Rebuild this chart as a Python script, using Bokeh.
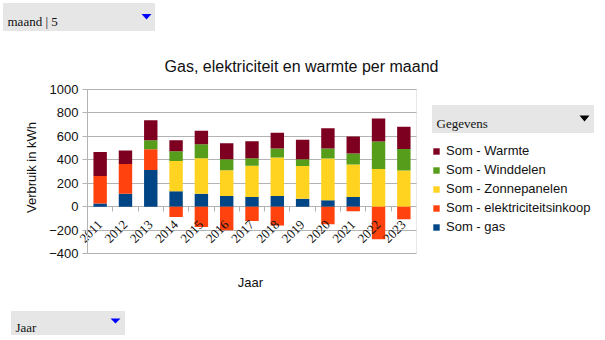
import numpy as np
from math import pi
from bokeh.plotting import figure
from bokeh.models import (ColumnDataSource, Range1d, LinearAxis, FixedTicker,
                          SingleIntervalTicker, Grid, Label, BoxAnnotation,
                          PolyAnnotation, Legend, LegendItem)
from bokeh.embed import file_html
from bokeh.resources import INLINE

# ---- data ----
years = ["2011", "2012", "2013", "2014", "2015", "2016", "2017",
         "2018", "2019", "2020", "2021", "2022", "2023"]
gas = [26, 111, 313, 131, 111, 91, 83, 91, 68, 54, 83, 0, 0]
elektriciteitsinkoop = [236, 254, 177, -88, -174, -202, -122, -162, 0, -151, -40, -279, -108]
zonnepanelen = [0, 0, 0, 259, 302, 220, 267, 328, 280, 356, 276, 322, 308]
winddelen = [0, 0, 77, 83, 120, 94, 63, 77, 57, 86, 94, 234, 185]
warmte = [205, 114, 171, 94, 114, 136, 145, 134, 165, 174, 145, 196, 188]

series_names = ["Som - gas", "Som - elektriciteitsinkoop", "Som - Zonnepanelen",
                "Som - Winddelen", "Som - Warmte"]
colors = ["#004586", "#ff420e", "#ffd320", "#579d1c", "#7e0021"]
y_min, y_max, y_step = -400, 1000, 200

# ---- layout constants (pixels) ----
W, H = 605, 340
FL, FT, FR, FB = 87, 89, 416, 253      # chart plot-area box on the canvas
GRAY = "#b3b3b3"
SANS = "Liberation Sans"
SERIF = "Liberation Serif"
TXT = "#111111"

n = len(years)
# ranges so that data box [0, n] x [y_min, y_max] sits at the plot-area box
kx = n / (FR - FL)
ky = (y_max - y_min) / (FB - FT)
x_range = Range1d(0 - FL * kx, n + (W - FR) * kx)
y_range = Range1d(y_min - (H - FB) * ky, y_max + FT * ky)


def sx(px):
    return px


def sy(py):
    return H - py


centers = np.arange(n) + 0.5
elek = np.array(elektriciteitsinkoop, dtype=float)
src = ColumnDataSource(dict(
    x=centers,
    gas=gas,
    elek_pos=np.maximum(elek, 0),
    elek_neg=np.minimum(elek, 0),
    zonne=zonnepanelen,
    wind=winddelen,
    warmte=warmte,
))

p = figure(width=W, height=H, output_backend="svg", toolbar_location=None,
           x_range=x_range, y_range=y_range, title=None,
           x_axis_location=None, y_axis_location=None,
           min_border=0, background_fill_color="white", border_fill_color="white",
           outline_line_color=None)
# drop default grids
p.center = [r for r in p.center if not isinstance(r, Grid)]

# grid
yticker = SingleIntervalTicker(interval=y_step)
p.add_layout(Grid(dimension=1, ticker=yticker, grid_line_color=GRAY,
                  bounds=(y_min, y_max), cross_bounds=(0, n)))
# plot-area outline
p.add_layout(BoxAnnotation(left=0, right=n, bottom=y_min, top=y_max,
                           fill_alpha=0, line_color=GRAY, line_width=1,
                           level="underlay"))

# bars
stack_rs = p.vbar_stack(["gas", "elek_pos", "zonne", "wind", "warmte"], x="x",
                        width=0.53, color=colors, line_color=None, source=src)
neg_r = p.vbar(x="x", top=0, bottom="elek_neg", width=0.53, color=colors[1],
               line_color=None, source=src)

# y axis (at x = 0)
yax = LinearAxis(ticker=yticker, bounds=(y_min, y_max), fixed_location=0,
                 axis_line_color=GRAY, major_tick_line_color=GRAY,
                 major_tick_in=0, major_tick_out=5, minor_tick_line_color=None,
                 major_label_text_font=SANS, major_label_text_font_size="13px",
                 major_label_text_color=TXT, major_label_standoff=4)
p.add_layout(yax, "left")

# x axis (at y = 0)
xax = LinearAxis(ticker=FixedTicker(ticks=list(centers),
                                    minor_ticks=list(range(1, n))),
                 bounds=(0, n), fixed_location=0,
                 major_label_overrides={float(c): y for c, y in zip(centers, years)},
                 major_label_orientation=pi / 4,
                 axis_line_color=None, major_tick_line_color=None,
                 major_tick_in=0, major_tick_out=0,
                 minor_tick_line_color=GRAY, minor_tick_in=0, minor_tick_out=5,
                 major_label_text_font=SERIF, major_label_text_font_size="13px",
                 major_label_text_color=TXT, major_label_standoff=11)
p.add_layout(xax, "below")

# texts
p.add_layout(Label(x=sx(301), y=sy(66), x_units="screen", y_units="screen",
                   text="Gas, elektriciteit en warmte per maand", text_align="center",
                   text_baseline="alphabetic", text_font=SANS, text_font_size="16px",
                   text_color=TXT))
p.add_layout(Label(x=sx(31), y=sy(167), x_units="screen", y_units="screen",
                   text="Verbruik in kWh", angle=pi / 2, text_align="center",
                   text_baseline="alphabetic", text_font=SANS, text_font_size="13px",
                   text_color=TXT))
p.add_layout(Label(x=sx(250), y=sy(282), x_units="screen", y_units="screen",
                   text="Jaar", text_align="center", text_baseline="alphabetic",
                   text_font=SANS, text_font_size="13px", text_color=TXT))


# dropdown buttons
def button(x0, y0, x1, y1, text, tri_color, tri_x, tri_y0, tri_y1):
    p.add_layout(BoxAnnotation(left=sx(x0), right=sx(x1), top=sy(y0), bottom=sy(y1),
                               left_units="screen", right_units="screen",
                               top_units="screen", bottom_units="screen",
                               fill_color="#e6e6e6", fill_alpha=1,
                               line_color="#c8c8c8", line_width=1))
    p.add_layout(Label(x=sx(x0 + 4), y=sy((y0 + y1) / 2 + 4.5), x_units="screen",
                       y_units="screen", text=text, text_align="left",
                       text_baseline="alphabetic", text_font=SERIF,
                       text_font_size="13px", text_color=TXT))
    p.add_layout(PolyAnnotation(xs=[sx(tri_x), sx(tri_x + 10), sx(tri_x + 5)],
                                ys=[sy(tri_y0), sy(tri_y0), sy(tri_y1)],
                                xs_units="screen", ys_units="screen",
                                fill_color=tri_color, fill_alpha=1, line_color=None))


button(3, 3, 154, 30, "maand | 5", "#0000ff", 141, 13.5, 19)
button(432, 105, 593, 132, "Gegevens", "#000000", 579, 115, 121)
button(11, 311, 124, 334, "Jaar", "#0000ff", 110, 318, 323)

# legend
rs = stack_rs
items = [LegendItem(label=series_names[i], renderers=[rs[i]]) for i in (4, 3, 2, 1, 0)]
legend = Legend(items=items, location=(sx(432), sy(234)), padding=0, margin=0,
                glyph_width=8, glyph_height=8, label_height=15, spacing=4,
                label_standoff=6, label_text_font=SANS, label_text_font_size="13px",
                label_text_color=TXT, background_fill_alpha=0,
                border_line_color=None)
p.add_layout(legend, "center")

open("out.html", "w").write(file_html(p, INLINE))
